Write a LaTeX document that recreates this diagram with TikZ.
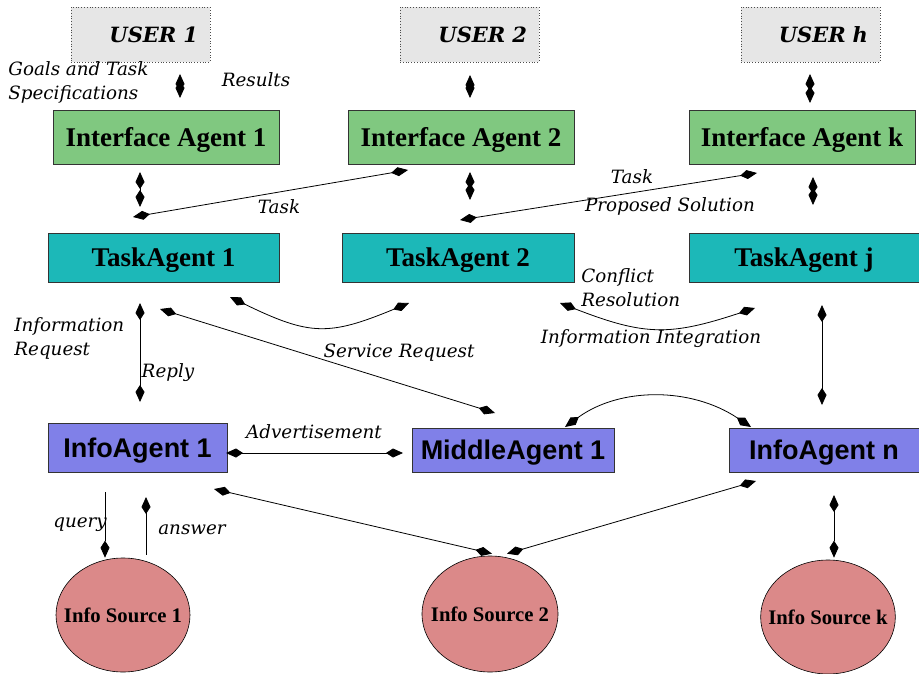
\documentclass[tikz,border=0pt]{standalone}
\usepackage{fontspec}
\usetikzlibrary{arrows.meta,shapes.geometric}
\newfontfamily\boxfont{Liberation Serif}
\newfontfamily\labfont{DejaVu Serif}
\newfontfamily\infofont{Liberation Sans}
\definecolor{usergray}{RGB}{230,230,230}
\definecolor{ifacegreen}{RGB}{128,200,128}
\definecolor{taskteal}{RGB}{28,184,184}
\definecolor{infoblue}{RGB}{128,128,232}
\definecolor{sourcepink}{RGB}{219,137,137}
\begin{document}
\begin{tikzpicture}[x=1pt,y=-1pt,>={Kite[length=17pt,width=9pt,inset=7pt]},line width=0.8pt,
agent/.style={shape=rectangle,draw=black!80,line width=0.8pt,inner sep=0,outer sep=0,text depth=0pt},
user/.style={agent,draw=black!70,dotted,fill=usergray,minimum height=55,text width=115,align=right,inner xsep=12,font=\labfont\bfseries\itshape\fontsize{21}{24}\selectfont},
iface/.style={agent,fill=ifacegreen,minimum width=226,minimum height=54,font=\boxfont\bfseries\fontsize{27}{30}\selectfont},
task/.style={agent,fill=taskteal,minimum width=231,minimum height=49,font=\boxfont\bfseries\fontsize{27}{30}\selectfont},
info/.style={agent,fill=infoblue,minimum height=44,font=\infofont\bfseries\fontsize{27}{30}\selectfont},
source/.style={shape=ellipse,draw=black,line width=0.6pt,fill=sourcepink,minimum width=134,minimum height=114,inner xsep=-12,inner ysep=0,font=\boxfont\bfseries\fontsize{20.7}{22}\selectfont},
lab/.style={font=\labfont\itshape\fontsize{18.3}{24}\selectfont,inner sep=0,align=left},
link/.style={<->},
flow/.style={->}]
\useasboundingbox (0,0) rectangle (919,674);

% USERS
\node[user] (U1) at (140.5,34.5) {USER 1};
\node[user] (U2) at (469.5,34.5) {USER 2};
\node[user] (Uh) at (810.5,34.5) {USER h};

% INTERFACE AGENTS
\node[iface] (IA1) at (166,137) {Interface Agent 1};
\node[iface] (IA2) at (461,137) {Interface Agent 2};
\node[iface] (IAk) at (802,137) {Interface Agent k};

% TASK AGENTS
\node[task] (TA1) at (163.5,257.5) {TaskAgent 1};
\node[task,minimum width=232] (TA2) at (458,257.5) {TaskAgent 2};
\node[task,minimum width=230] (TAj) at (804,257.5) {TaskAgent j};

% INFO AGENTS
\node[info,minimum width=179,minimum height=49] (IF1) at (137.5,447.5) {InfoAgent 1};
\node[info,minimum width=202] (MA) at (513,450) {MiddleAgent 1};
\node[info,minimum width=190] (IFn) at (824,450) {InfoAgent n};

% INFO SOURCES
\node[source] (IS1) at (123,615) {Info Source 1};
\node[source,minimum width=136,minimum height=116] (IS2) at (490,614) {Info Source 2};
\node[source] (ISk) at (828,617) {Info Source k};

% USER <-> INTERFACE
\draw[link] ([shift={(39.5,12)}]U1.south) -- ([shift={(14,-12)}]IA1.north);
\draw[link] ([shift={(0.5,13)}]U2.south) -- ([shift={(9,-12)}]IA2.north);
\draw[link] ([shift={(-0.5,12)}]Uh.south) -- ([shift={(8,-7)}]IAk.north);
\node[lab,anchor=west] (GoalsL) at (8,82) {Goals and Task\\Specifications};
\node[lab] (ResultsL) at (256,80) {Results};

% INTERFACE <-> TASK
\draw[link] ([shift={(-26,8)}]IA1.south) -- ([shift={(-23.5,-26)}]TA1.north);
\draw[link] ([shift={(9,8)}]IA2.south) -- ([shift={(12,-33)}]TA2.north);
\draw[link] ([shift={(11,13)}]IAk.south) -- ([shift={(9,-28)}]TAj.north);
\draw[link] ([shift={(-30.5,-16)}]TA1.north) -- ([shift={(-53,6)}]IA2.south);
\draw[link] ([shift={(2,-13)}]TA2.north) -- ([shift={(-45,9)}]IAk.south);
\node[lab] (TaskL1) at (279,207) {Task};
\node[lab] (TaskL2) at (632,177) {Task};
\node[lab] (PropL) at (670,206) {Proposed Solution};

% TASK <-> TASK
\draw[link] ([shift={(-49,15)}]TA1.south east) .. controls +(80,39) and +(-80,33) .. ([shift={(67,21)}]TA2.south west);
\draw[link] ([shift={(-14,21)}]TA2.south east) .. controls +(85,33) and +(-85,28) .. ([shift={(66,26)}]TAj.south west);
\node[lab,anchor=west] (ConflictL) at (581,288) {Conflict\\Resolution};
\node[lab] (IntegL) at (651,339) {Information Integration};

% TASK <-> INFO
\draw[link] ([shift={(-23.5,21)}]TA1.south) -- ([shift={(2.5,-21)}]IF1.north);
\draw[link] ([shift={(-3.5,27)}]TA1.south) -- ([shift={(-18,-15)}]MA.north);
\draw[link] ([shift={(18,23)}]TAj.south) -- ([shift={(-2,-23)}]IFn.north);
\node[lab,anchor=west] (InfoReqL) at (14,338) {Information\\Request};
\node[lab] (ReplyL) at (168,373) {Reply};
\node[lab] (ServL) at (399,353) {Service Request};

% INFO <-> MIDDLE
\draw[link] ([shift={(-1,5.5)}]IF1.east) -- ([shift={(-9,3)}]MA.west);
\draw[link] ([shift={(52,-1)}]MA.north) .. controls +(55,-40) and +(-60,-40) .. ([shift={(-73,-1)}]IFn.north);
\node[lab] (AdvL) at (314,432) {Advertisement};

% INFO <-> SOURCES
\draw[flow] ([shift={(-32.5,20)}]IF1.south) -- ([shift={(-18,0)}]IS1.north);
\draw[flow] ([shift={(23,-3)}]IS1.north) -- ([shift={(8.5,25)}]IF1.south);
\draw[link] ([shift={(-13,17)}]IF1.south east) -- ([shift={(2,-2)}]IS2.north);
\draw[link] ([shift={(27,9)}]IFn.south west) -- ([shift={(17,-2)}]IS2.north);
\draw[link] ([shift={(10,23)}]IFn.south) -- ([shift={(6,-2)}]ISk.north);
\node[lab] (QueryL) at (80,525) {query};
\node[lab] (AnswerL) at (192,530) {answer};
\end{tikzpicture}
\end{document}
